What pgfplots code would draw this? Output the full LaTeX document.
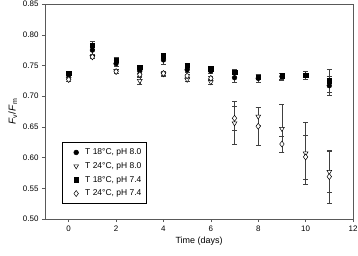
\documentclass[border=0pt]{standalone}
\usepackage{pgfplots}
\pgfplotsset{compat=1.18}
\usepackage{pgfplotstable}
\usepackage{fontspec}
\setmainfont{Liberation Sans}
\pgfplotstableread{
x y e
0 0.734 0.004
1 0.775 0.006
2 0.753 0.005
3 0.741 0.004
4 0.759 0.007
5 0.743 0.004
6 0.741 0.004
7 0.730 0.008
8 0.729 0.006
9 0.732 0.006
10 0.734 0.007
11 0.717 0.015
}\circdata
\pgfplotstableread{
x y e
0 0.728 0.003
1 0.764 0.003
2 0.741 0.003
3 0.725 0.005
4 0.736 0.003
5 0.727 0.003
6 0.723 0.004
7 0.656 0.035
8 0.667 0.015
9 0.647 0.039
10 0.607 0.050
11 0.577 0.034
}\tridata
\pgfplotstableread{
x y e
0 0.737 0.003
1 0.783 0.006
2 0.759 0.004
3 0.747 0.003
4 0.766 0.004
5 0.750 0.004
6 0.745 0.004
7 0.739 0.004
8 0.731 0.004
9 0.733 0.005
10 0.734 0.006
11 0.725 0.018
}\sqdata
\pgfplotstableread{
x y e
0 0.727 0.003
1 0.764 0.003
2 0.740 0.003
3 0.735 0.003
4 0.737 0.003
5 0.733 0.003
6 0.729 0.003
7 0.664 0.020
8 0.651 0.031
9 0.622 0.013
10 0.601 0.036
11 0.569 0.043
}\diadata
\begin{document}
\begin{tikzpicture}
\begin{axis}[
  at={(0,0)}, anchor=south west,
  scale only axis, width=308bp, height=215bp,
  xmin=-1, xmax=12, ymin=0.5, ymax=0.85,
  xtick={0,2,...,12}, ytick={0.50,0.55,...,0.851},
  tick align=outside, tick pos=left,
  major tick length=3bp,
  axis line style={black!65},
  every tick/.style={black!65},
  tick label style={font=\fontsize{8}{9}\selectfont},
  label style={font=\fontsize{9}{10}\selectfont},
  /pgf/number format/assume math mode=true,
  yticklabel style={/pgf/number format/.cd, fixed, fixed zerofill, precision=2},
  xticklabel style={/pgf/number format/.cd, fixed},
  xlabel={Time (days)},
  ylabel={\fontsize{10}{11}\selectfont\textit{F}\textsubscript{v}/\textit{F}\textsubscript{m}},
  xlabel style={yshift=1bp},
  ylabel style={yshift=-1bp},
  error bars/error bar style={black!75, line width=0.5pt},
  error bars/error mark options={rotate=90, mark size=2.5bp, black!75, line width=0.5pt},
  legend style={at={(0.055,0.07)}, anchor=south west, draw=black, line width=0.5pt,
    font=\fontsize{8.5}{10}\selectfont, row sep=2.3pt, inner xsep=3pt, inner ysep=4.5pt},
  legend image code/.code={\path (0cm,0cm) (0.62cm,0cm); \draw[#1] plot coordinates {(0.38cm,0cm)};},
  legend cell align=left,
  clip=false,
]
\addplot[only marks, mark=*, mark size=2.4bp, black, error bars/.cd, y dir=both, y explicit]
  table[x=x, y=y, y error=e]{\circdata};
\addlegendentry{T 18\textdegree C, pH 8.0}
\addplot[only marks, mark=triangle*, mark options={rotate=180, fill=white, draw=black, line width=0.5pt}, mark size=2.8bp, black, error bars/.cd, y dir=both, y explicit]
  table[x=x, y=y, y error=e]{\tridata};
\addlegendentry{T 24\textdegree C, pH 8.0}
\addplot[only marks, mark=square*, mark size=2.2bp, black, error bars/.cd, y dir=both, y explicit]
  table[x=x, y=y, y error=e]{\sqdata};
\addlegendentry{T 18\textdegree C, pH 7.4}
\addplot[only marks, mark=diamond*, mark options={fill=white, draw=black, line width=0.5pt}, mark size=3bp, black, error bars/.cd, y dir=both, y explicit]
  table[x=x, y=y, y error=e]{\diadata};
\addlegendentry{T 24\textdegree C, pH 7.4}
\end{axis}
\pgfresetboundingbox
\path (-45bp,-37bp) rectangle (313bp,219bp);
\end{tikzpicture}
\end{document}
